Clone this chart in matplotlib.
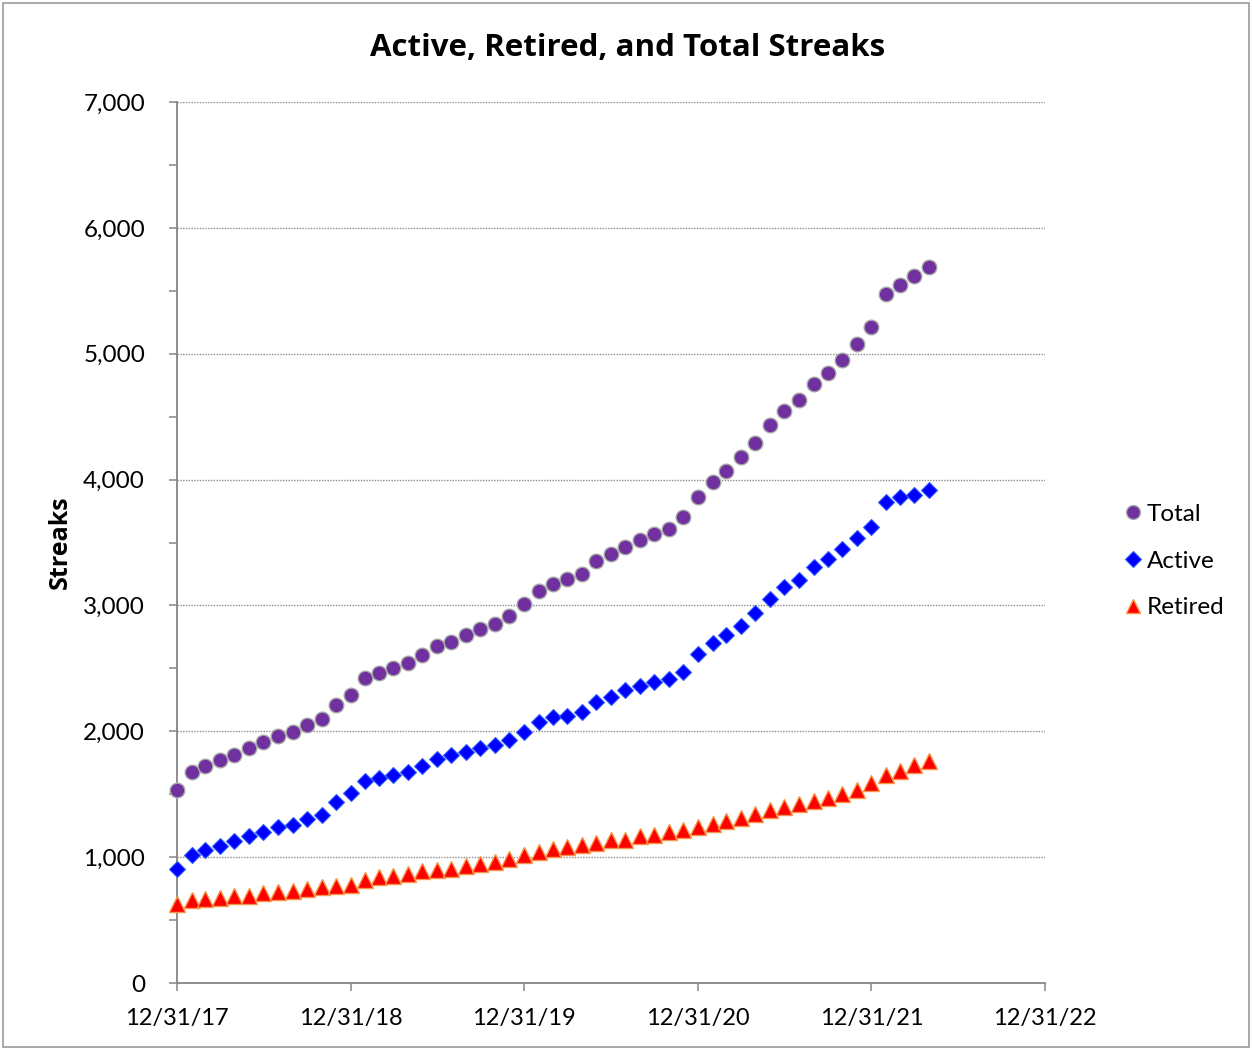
import matplotlib
matplotlib.use("Agg")
import matplotlib.pyplot as plt
import matplotlib.dates as mdates
import matplotlib.ticker as mticker
from matplotlib.patches import Rectangle
import pandas as pd

# monthly month-end readings, Dec 2017 .. Apr 2022
dates = pd.date_range("2017-12-31", periods=53, freq="ME")

total = [1533, 1674, 1724, 1769, 1814, 1865, 1913, 1965, 1992, 2052,
         2095, 2206, 2288, 2421, 2465, 2503, 2543, 2610, 2679, 2712,
         2765, 2813, 2852, 2918, 3011, 3115, 3173, 3208, 3250, 3350,
         3409, 3462, 3517, 3567, 3607, 3705, 3864, 3978, 4071, 4179,
         4288, 4431, 4545, 4632, 4759, 4844, 4953, 5075, 5215, 5472,
         5548, 5615, 5687]

active = [903, 1017, 1057, 1091, 1126, 1170, 1200, 1239, 1258, 1305,
          1335, 1438, 1507, 1602, 1626, 1653, 1679, 1724, 1782, 1809,
          1835, 1865, 1889, 1934, 1997, 2071, 2116, 2121, 2156, 2235,
          2275, 2325, 2360, 2394, 2415, 2473, 2614, 2704, 2767, 2837,
          2943, 3049, 3146, 3204, 3308, 3369, 3446, 3538, 3626, 3824,
          3859, 3877, 3915]

retired = [630, 657, 667, 678, 688, 695, 713, 726, 734, 747,
           760, 768, 781, 819, 839, 850, 864, 886, 897, 903,
           930, 948, 963, 984, 1014, 1043, 1062, 1081, 1094, 1115,
           1134, 1136, 1165, 1173, 1197, 1218, 1242, 1266, 1287, 1313,
           1340, 1375, 1398, 1422, 1446, 1472, 1502, 1533, 1587, 1653,
           1687, 1732, 1766]

year_ticks = pd.to_datetime(["2017-12-31", "2018-12-31", "2019-12-31",
                             "2020-12-31", "2021-12-31", "2022-12-31"])

plt.rcParams['font.family'] = ['Lato', 'DejaVu Sans']
grey = '#868686'

fig = plt.figure(figsize=(12.52, 10.5), dpi=100)
ax = fig.add_axes([177 / 1252, 1 - 983 / 1050, (1045 - 177) / 1252, (983 - 102) / 1050])

# outer chart border like the spreadsheet chart area
fig.patches.append(Rectangle((3 / 1252, 3 / 1050), 1246 / 1252, 1044 / 1050,
                             transform=fig.transFigure, fill=False,
                             edgecolor='#9a9a9a', linewidth=1.2))

ax.plot(dates, total, linestyle='none', marker='o', markersize=10.5,
        markerfacecolor='#7030A0', markeredgecolor='#a6a6a6',
        markeredgewidth=1.0, label='Total', clip_on=False, zorder=3)
ax.plot(dates, active, linestyle='none', marker='D', markersize=8.2,
        markerfacecolor='#0000FF', markeredgecolor='#2f5bff',
        markeredgewidth=0.8, label='Active', clip_on=False, zorder=3)
ax.plot(dates, retired, linestyle='none', marker='^', markersize=11,
        markerfacecolor='#FF0000', markeredgecolor='#F79646',
        markeredgewidth=1.0, label='Retired', clip_on=False, zorder=3)

ax.set_xlim(year_ticks[0], year_ticks[-1])
ax.set_ylim(0, 7000)

ax.set_xticks(year_ticks)
ax.xaxis.set_major_formatter(mdates.DateFormatter('%m/%d/%y'))
ax.yaxis.set_major_locator(mticker.MultipleLocator(1000))
ax.yaxis.set_minor_locator(mticker.MultipleLocator(500))
ax.yaxis.set_major_formatter(mticker.FuncFormatter(lambda v, p: f"{int(v):,}"))

ax.tick_params(axis='y', which='both', direction='out', length=6, width=1.1,
               color=grey, labelsize=17.5, pad=17)
ax.tick_params(axis='x', which='both', direction='out', length=6, width=1.1,
               color=grey, labelsize=17, pad=12)

ax.grid(axis='y', which='major', linestyle=(0, (1, 1)), color='#8c8c8c', linewidth=1.0)
ax.set_axisbelow(True)

for side in ['top', 'right']:
    ax.spines[side].set_visible(False)
for side in ['left', 'bottom']:
    ax.spines[side].set_color(grey)
    ax.spines[side].set_linewidth(1.3)

fig.text(60 / 1252, 1 - 542 / 1050, 'Streaks', rotation=90, ha='center', va='center',
         fontsize=18, fontweight='bold', family=['Open Sans', 'DejaVu Sans'])
fig.text(628 / 1252, 1 - 48 / 1050, 'Active, Retired, and Total Streaks',
         ha='center', va='center', fontsize=22.5, fontweight='bold',
         family=['Open Sans', 'DejaVu Sans'])

ax.legend(loc='center left', bbox_to_anchor=(1103 / 1252, 1 - 561 / 1050),
          bbox_transform=fig.transFigure, frameon=False, fontsize=17.5,
          handlelength=0.7, handletextpad=0.2, labelspacing=1.05,
          markerscale=0.95)

fig.savefig('out.png', dpi=100)
